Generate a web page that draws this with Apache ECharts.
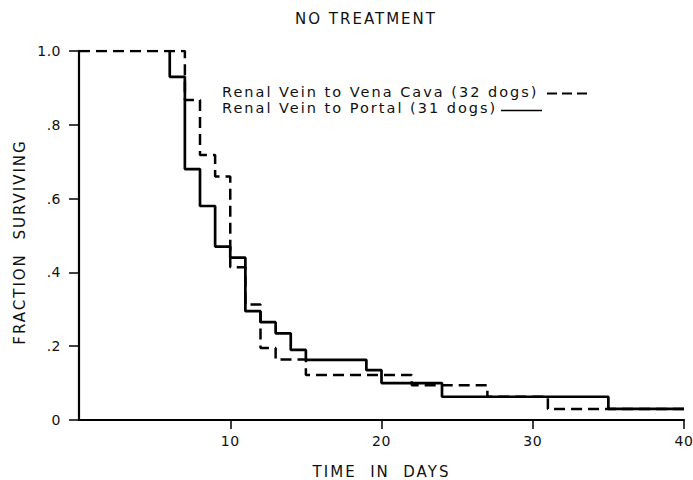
<!DOCTYPE html>
<html>
<head>
<meta charset="utf-8">
<script src="https://cdn.jsdelivr.net/npm/echarts@6/dist/echarts.min.js"></script>
<style>html,body{margin:0;padding:0;background:#fff;}#c{width:693px;height:480px;}</style>
</head>
<body>
<div id="c"></div>
<script>
// Data (day, fraction surviving from that day onward)
var cavaName = 'Renal Vein to Vena Cava (32 dogs)';
var portalName = 'Renal Vein to Portal (31 dogs)';
var cavaDays =     [0,   7,     8,     9,    10,    11,    12,    13,    15,    22,    27,    31,   40];
var cavaSurv =     [1.0, 0.867, 0.718, 0.66, 0.414, 0.313, 0.195, 0.164, 0.122, 0.094, 0.063, 0.03, 0.03];
var portalDays =   [6,   6,    7,    8,    9,    10,   11,    12,    13,    14,   15,    19,    20,   24,    35,   40];
var portalSurv =   [1.0, 0.93, 0.68, 0.58, 0.47, 0.44, 0.295, 0.265, 0.235, 0.19, 0.163, 0.135, 0.10, 0.063, 0.03, 0.03];
var xTickValues = [10, 20, 30, 40];
var yTickValues = [0, 0.2, 0.4, 0.6, 0.8, 1.0];
var yTickLabels = ['0', '.2', '.4', '.6', '.8', '1.0'];
var titleText = 'NO TREATMENT';
var xName = 'TIME  IN  DAYS';
var yName = 'FRACTION  SURVIVING';

function pairs(xs, ys) { return xs.map(function (x, i) { return [x, ys[i]]; }); }

var FONT = 'DejaVu Sans';
var INK = '#111';
var chart = echarts.init(document.getElementById('c'), null, { renderer: 'svg' });
chart.setOption({
  backgroundColor: '#fff',
  animation: false,
  title: {
    text: titleText,
    left: 361, top: 6.5, textAlign: 'center',
    textStyle: { fontFamily: FONT, fontSize: 15, fontWeight: 'normal', color: INK }
  },
  graphic: [
    { type: 'text', left: 222, top: 84, style: { text: cavaName, fontFamily: FONT, fontSize: 14.5, fill: INK } },
    { type: 'text', left: 222, top: 100, style: { text: portalName, fontFamily: FONT, fontSize: 14.5, fill: INK } },
    { type: 'line', shape: { x1: 547, y1: 93.5, x2: 590, y2: 93.5 }, style: { stroke: '#000', lineWidth: 2, lineDash: [10, 5] } },
    { type: 'line', shape: { x1: 501, y1: 110.5, x2: 542, y2: 110.5 }, style: { stroke: '#000', lineWidth: 1.6 } }
  ],
  grid: { left: 79, right: 9, top: 51, bottom: 60, outerBoundsMode: 'none', containLabel: false },
  xAxis: {
    type: 'value', min: 0, max: 40, interval: 10,
    name: xName, nameLocation: 'middle', nameGap: 44,
    nameTextStyle: { fontFamily: FONT, fontSize: 15, color: INK },
    axisLine: { show: true, lineStyle: { color: '#000', width: 2.2 } },
    axisTick: { show: true, length: 9, customValues: xTickValues, lineStyle: { color: '#000', width: 1.5 } },
    axisLabel: { customValues: xTickValues, margin: 13.5, fontFamily: FONT, fontSize: 14, color: INK },
    splitLine: { show: false }
  },
  yAxis: {
    type: 'value', min: 0, max: 1, interval: 0.2,
    name: yName, nameLocation: 'middle', nameGap: 50, nameRotate: 90,
    nameTextStyle: { fontFamily: FONT, fontSize: 15, color: INK, padding: [0, 13, 0, 0] },
    axisLine: { show: true, lineStyle: { color: '#000', width: 2.2 } },
    axisTick: { show: true, length: 10, lineStyle: { color: '#000', width: 1.5 } },
    axisLabel: {
      margin: 18, fontFamily: FONT, fontSize: 14, color: INK,
      formatter: function (v) {
        for (var i = 0; i < yTickValues.length; i++) if (Math.abs(yTickValues[i] - v) < 1e-6) return yTickLabels[i];
        return '';
      }
    },
    splitLine: { show: false }
  },
  series: [
    {
      name: cavaName, type: 'line', step: 'end', symbol: 'none',
      data: pairs(cavaDays, cavaSurv),
      lineStyle: { color: '#000', width: 2.5, type: [11, 6] },
      itemStyle: { color: '#000' }, z: 3
    },
    {
      name: portalName, type: 'line', step: 'end', symbol: 'none',
      data: pairs(portalDays, portalSurv),
      lineStyle: { color: '#000', width: 2.7, type: 'solid' },
      itemStyle: { color: '#000' }, z: 2
    }
  ]
});

// Emulate the wide lettering of the original drawing
function spaceLetters() {
  var texts = document.querySelectorAll('#c svg text');
  texts.forEach(function (t) {
    var s = (t.textContent || '').trim();
    var ls = s.length >= 5 ? '2px' : '0.5px';
    t.setAttribute('letter-spacing', ls);
    t.style.letterSpacing = ls;
  });
}
spaceLetters();
chart.on('finished', spaceLetters);
setTimeout(spaceLetters, 50);
</script>
</body>
</html>
